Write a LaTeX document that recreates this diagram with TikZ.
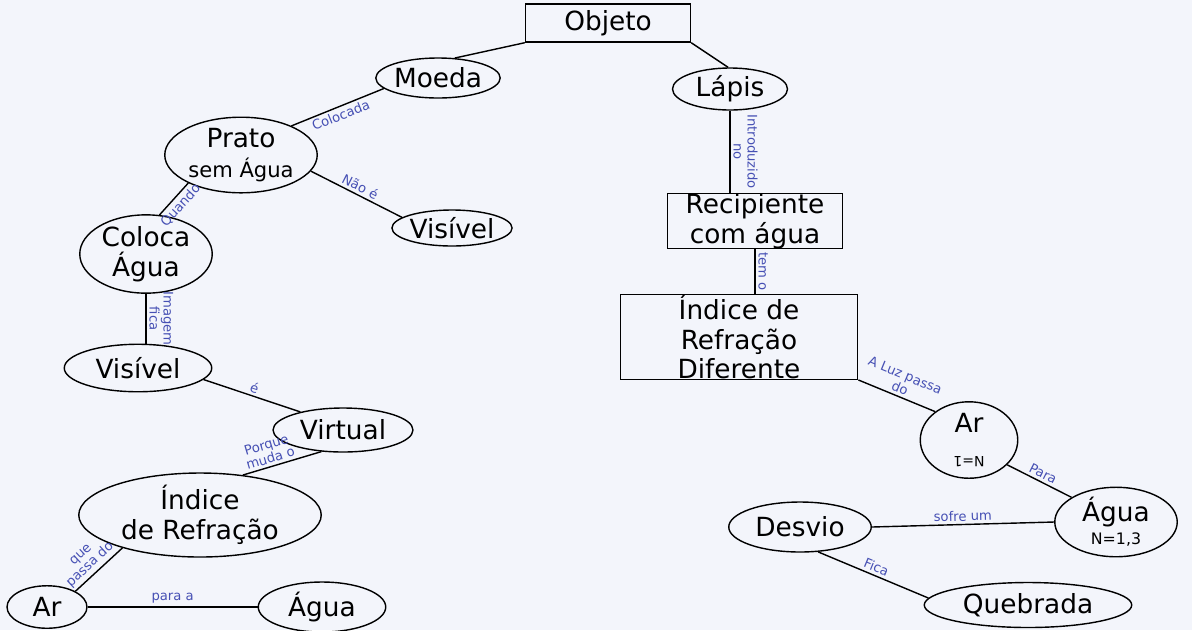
\documentclass[tikz,border=0pt]{standalone}
\usepackage{fontspec}
\setmainfont{DejaVu Sans}
\usetikzlibrary{shapes.geometric}
\definecolor{paper}{RGB}{243,245,251}
\definecolor{pen}{RGB}{70,80,180}

\begin{document}
\begin{tikzpicture}[x=0.02cm, y=-0.02cm,
  every node/.style={font=\fontsize{15}{17}\selectfont},
  conceito/.style={draw, ellipse, inner sep=0pt, line width=0.8pt},
  caixa/.style={draw, rectangle, inner sep=0pt, line width=0.8pt},
  lig/.style={line width=0.8pt},
  rotulo/.style={font=\fontsize{7.5}{8}\selectfont, text=pen, sloped, align=center, inner sep=1.5pt}]

\fill[paper] (0,0) rectangle (1192,630);
\useasboundingbox (0,0) rectangle (1192,630);

% lado esquerdo
\node[caixa, minimum width=3.3cm, minimum height=0.76cm] (objeto) at (608,23) {Objeto};
\node[conceito, minimum width=2cm, minimum height=0.8cm] (moeda) at (438,78) {Moeda};
\node[conceito, minimum width=3.05cm, minimum height=1.2cm, align=center] (prato) at (241,155) {Prato\\{\fontsize{12}{13}\selectfont sem Água}};
\node[conceito, minimum width=2.4cm, minimum height=0.72cm] (visivelb) at (452,228) {Visível};
\node[conceito, minimum width=2.65cm, minimum height=1.15cm, align=center] (coloca) at (146,254) {Coloca\\Água};
\node[conceito, minimum width=2.95cm, minimum height=0.95cm] (visivel) at (138,368) {Visível};
\node[conceito, minimum width=2.8cm, minimum height=0.88cm] (virtual) at (343,430) {Virtual};
\node[conceito, minimum width=4.85cm, minimum height=1.3cm, align=center] (indice) at (200,515) {Índice\\de Refração};
\node[conceito, minimum width=1.6cm, minimum height=0.85cm] (ar) at (47,607) {Ar};
\node[conceito, minimum width=2.55cm, minimum height=1cm] (agua) at (322,607) {Água};

% lado direito
\node[conceito, minimum width=2.3cm, minimum height=0.84cm] (lapis) at (730,89) {Lápis};
\node[caixa, minimum width=3.5cm, minimum height=0.96cm, align=center] (recipiente) at (755,221) {Recipiente\\com água};
\node[caixa, minimum width=4.75cm, minimum height=1.62cm, align=center] (indiced) at (739,337) {Índice de\\Refração\\Diferente};
\node[conceito, minimum width=1.95cm, minimum height=0.9cm, align=center] (arn) at (969,440) {Ar\\[-3pt]{\fontsize{8}{9}\selectfont\rotatebox{180}{N=1}}};
\node[conceito, minimum width=2.45cm, minimum height=1cm, align=center] (aguan) at (1116,522) {Água\\[-4pt]{\fontsize{9}{10}\selectfont N=1,3}};
\node[conceito, minimum width=2.85cm, minimum height=1cm] (desvio) at (800,527) {Desvio};
\node[conceito, minimum width=4.15cm, minimum height=0.9cm] (quebrada) at (1028,605) {Quebrada};

\draw[lig] (objeto.south west) -- (moeda.50);
\draw[lig] (objeto.south east) -- (lapis.95);
\draw[lig] (moeda.191) -- node[rotulo, below] {Colocada} (prato.30);
\draw[lig] (prato.-13) -- node[rotulo, above] {Não é} (visivelb.168);
\draw[lig] (prato.208) -- node[rotulo, below] {Quando} (coloca.71);
\draw[lig] (coloca.south) -- node[rotulo, above, allow upside down] {Imagem\\fica} (coloca.south |- visivel.north);
\draw[lig] (visivel.-10) -- node[rotulo, above] {é} (virtual.157);
\draw[lig] (virtual.225) -- node[rotulo, above, pos=0.62] {Porque\\muda o} (indice.43);
\draw[lig] (indice.203) -- node[rotulo, above, pos=0.55] {que\\passa do} (ar.29);
\draw[lig] (ar) -- node[rotulo, above] {para a} (agua);

\draw[lig] (lapis.south) -- node[rotulo, above, allow upside down] {Introduzido\\no} (lapis.south |- recipiente.north);
\draw[lig] (recipiente.south) -- node[rotulo, above, allow upside down] {tem o} (recipiente.south |- indiced.north);
\draw[lig] (indiced.south east) -- node[rotulo, above] {A Luz passa\\do} (arn.140);
\draw[lig] (arn.-33) -- node[rotulo, above] {Para} (aguan.151);
\draw[lig] (aguan.west) -- node[rotulo, above] {sofre um} (desvio.east);
\draw[lig] (desvio.-54) -- node[rotulo, above] {Fica} (quebrada.176);

\end{tikzpicture}
\end{document}
